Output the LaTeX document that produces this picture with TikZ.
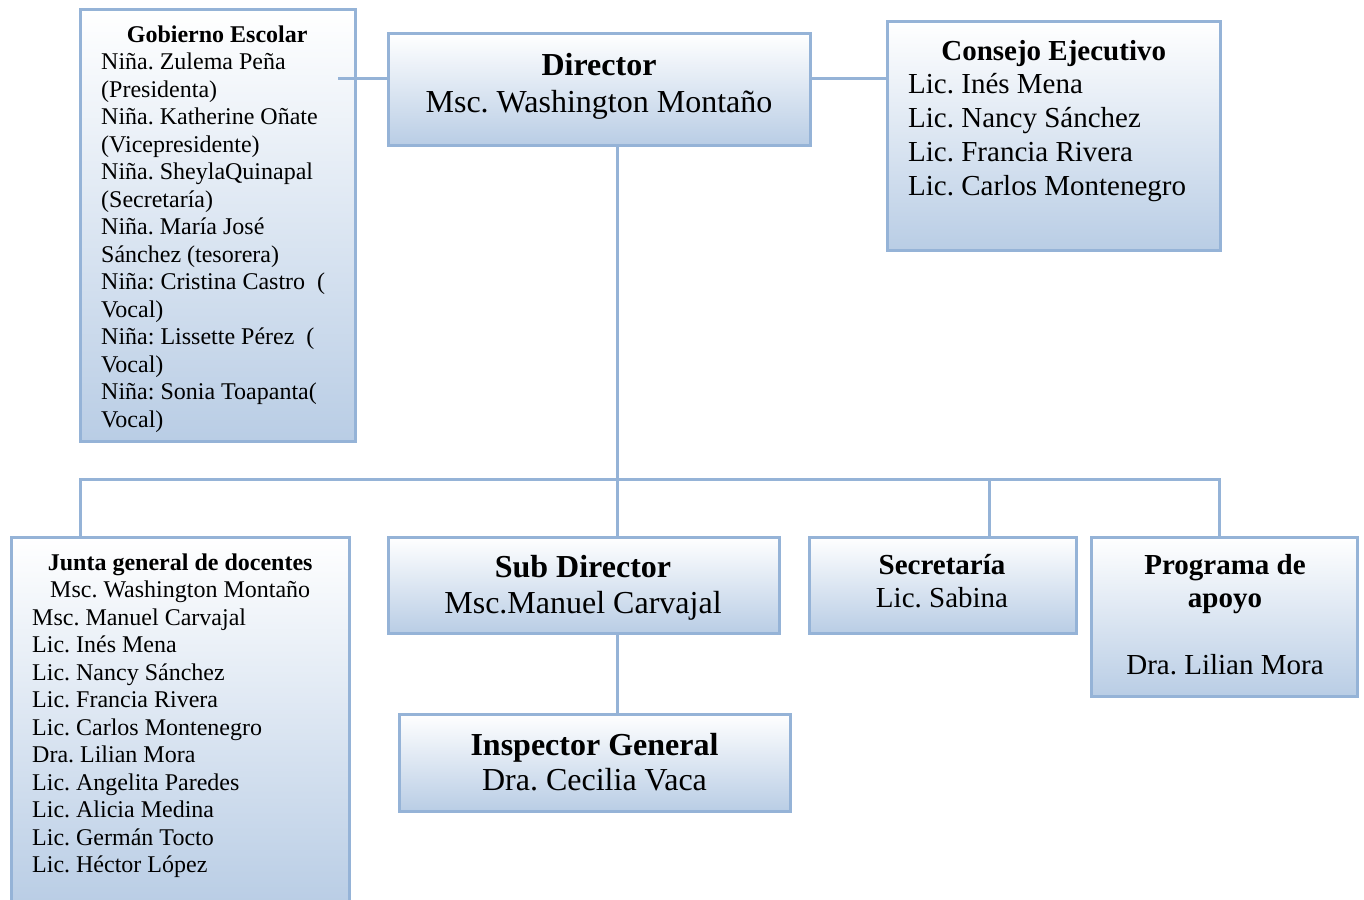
\documentclass[tikz,border=0pt]{standalone}
\usepackage{fontspec}
\setmainfont{Liberation Serif}
\frenchspacing
\definecolor{bord}{HTML}{95B3D7}
\definecolor{fillb}{HTML}{B9CDE5}
\begin{document}
\begin{tikzpicture}[x=1pt,y=-1pt,
  box/.style={draw=bord, line width=3pt, top color=white, bottom color=fillb, inner sep=0pt},
  link/.style={draw=bord, line width=3pt},
  txtl/.style={inner sep=0pt, anchor=base west},
  txtc/.style={inner sep=0pt, anchor=base}]
\useasboundingbox (0,0) rectangle (1364,899);

% boxes
\node[box, minimum width=275pt, minimum height=431pt] (gob) at (217.5,225.5) {};
\node[box, minimum width=422pt, minimum height=111pt] (dir) at (599,89.5) {};
\node[box, minimum width=333pt, minimum height=228pt] (cons) at (1053.5,136) {};
\node[box, minimum width=338pt, minimum height=368pt] (jun) at (180,721) {};
\node[box, minimum width=391pt, minimum height=96pt] (sub) at (583.5,585) {};
\node[box, minimum width=267pt, minimum height=96pt] (sec) at (942.5,585) {};
\node[box, minimum width=266pt, minimum height=159pt] (prog) at (1224,616.5) {};
\node[box, minimum width=391pt, minimum height=97pt] (insp) at (594.5,762.5) {};

% connectors
\coordinate (g1) at (338,78);
\coordinate (lk) at (849,78);
\coordinate (bus) at (617,479);
\coordinate (bl) at (80,479);
\coordinate (br) at (1219,479);
\coordinate (bs) at (989,479);
\draw[link] (g1) -- (g1 -| dir.west);
\draw[link] (lk -| dir.east) -- (lk -| cons.west);
\draw[link] (dir.south -| bus) -- (sub.north -| bus);
\draw[link] (bl |- jun.north) -- (bl) -- (br) -- (br |- prog.north);
\draw[link] (bs) -- (bs |- sec.north);
\draw[link] (sub.south -| bus) -- (insp.north -| bus);

% texts
\node[txtl] (gobt) at (101,42) {\parbox[t]{232pt}{\fontsize{24}{27.5}\selectfont
  {\centering\textbf{Gobierno Escolar}\par}\raggedright
  Niña. Zulema Peña\\(Presidenta)\\Niña. Katherine Oñate\\(Vicepresidente)\\Niña. SheylaQuinapal\\(Secretaría)\\Niña. María José\\Sánchez (tesorera)\\Niña: Cristina Castro\ \ (\\Vocal)\\Niña: Lissette Pérez\ \ (\\Vocal)\\Niña: Sonia Toapanta(\\Vocal)}};

\node[txtc] (dirt) at (599,75) {\parbox[t]{410pt}{\centering\fontsize{32}{37}\selectfont
  \textbf{Director}\\Msc. Washington Montaño}};

\node[txtl] (const) at (908,60) {\parbox[t]{291pt}{\fontsize{29}{33.8}\selectfont
  {\centering\textbf{Consejo Ejecutivo}\par}\raggedright
  Lic. Inés Mena\\Lic. Nancy Sánchez\\Lic. Francia Rivera\\Lic. Carlos Montenegro}};

\node[txtl] (junt) at (32,570) {\parbox[t]{296pt}{\fontsize{24}{27.5}\selectfont
  {\centering\textbf{Junta general de docentes}\\Msc. Washington Montaño\par}\raggedright
  Msc. Manuel Carvajal\\Lic. Inés Mena\\Lic. Nancy Sánchez\\Lic. Francia Rivera\\Lic. Carlos Montenegro\\Dra. Lilian Mora\\Lic. Angelita Paredes\\Lic. Alicia Medina\\Lic. Germán Tocto\\Lic. Héctor López}};

\node[txtc] (subt) at (583,577) {\parbox[t]{380pt}{\centering\fontsize{32}{36.5}\selectfont
  \textbf{Sub Director}\\Msc.Manuel Carvajal}};

\node[txtc] (inspt) at (594.5,755) {\parbox[t]{380pt}{\centering\fontsize{32}{35.5}\selectfont
  \textbf{Inspector General}\\Dra. Cecilia Vaca}};

\node[txtc] (sect) at (942,574) {\parbox[t]{260pt}{\centering\fontsize{29}{33}\selectfont
  \textbf{Secretaría}\\Lic. Sabina}};

\node[txtc] (progt) at (1225,574) {\parbox[t]{260pt}{\centering\fontsize{29}{33.5}\selectfont
  \textbf{Programa de}\\\textbf{apoyo}\\[33.5pt]Dra. Lilian Mora}};
\end{tikzpicture}
\end{document}
